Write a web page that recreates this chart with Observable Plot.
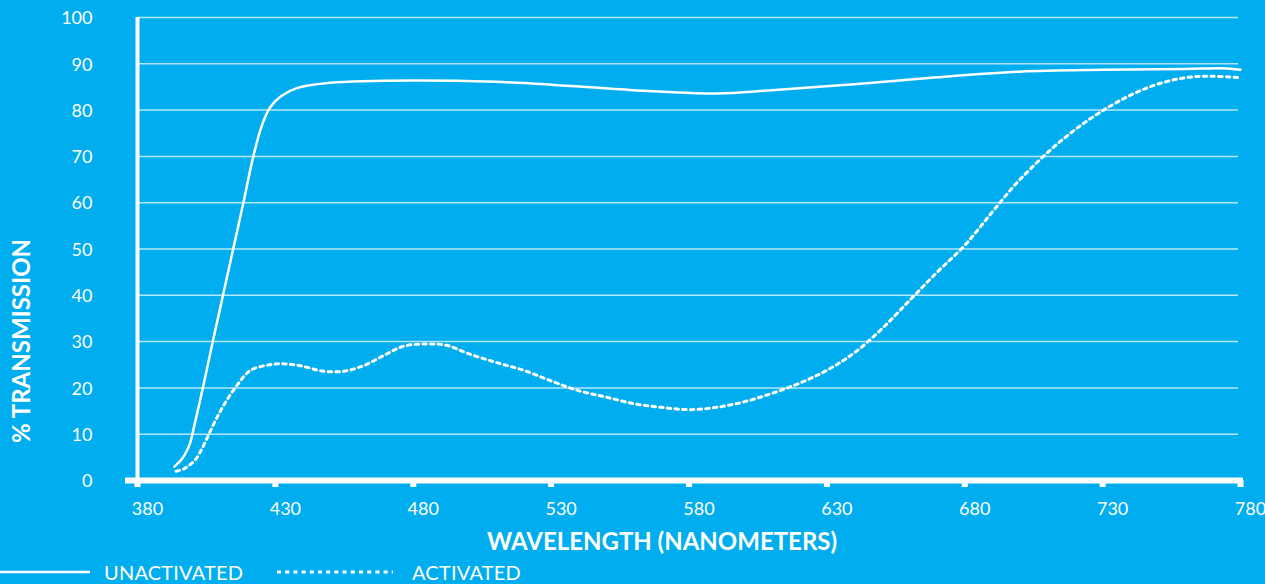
<!DOCTYPE html>
<html>
<head>
<meta charset="utf-8">
<script src="https://cdn.jsdelivr.net/npm/d3@7"></script>
<script src="https://cdn.jsdelivr.net/npm/@observablehq/plot@0.6"></script>
<style>
  html, body { margin: 0; padding: 0; background: #00AEEF; overflow: hidden; }
  #chart { width: 1265px; height: 584px; position: relative; font-family: Lato, "Open Sans", sans-serif; color: #fff; }
  #legend { position: relative; height: 24px; margin-top: 4px; }
  #legend .item { position: absolute; top: 0; height: 24px; display: flex; align-items: center; }
  #legend span { font-size: 20px; line-height: 22px; letter-spacing: 0.2px; }
</style>
</head>
<body>
<div id="chart"></div>
<script>
const unactWavelength = [393.4, 396.3, 398.2, 399.3, 400.1, 403.7, 407.3, 411, 414.7, 418.4, 422, 425, 428, 432, 438, 450, 480, 510, 530, 560, 590, 610, 640, 670, 700, 730, 760, 775, 780];
const unactTransmission = [3, 4.8, 6.8, 8.5, 10.5, 20, 30, 40, 50, 60, 70, 76.5, 80.5, 83, 84.8, 85.9, 86.4, 86.1, 85.5, 84.3, 83.6, 84.3, 85.6, 87.1, 88.3, 88.7, 88.9, 89, 88.7];

const actWavelength = [394, 396.8, 399.2, 401, 402.6, 404, 406.2, 408.9, 411.6, 416, 421, 428, 433, 439, 447.5, 454.8, 462, 469.3, 476.5, 485, 492, 500, 510, 520, 530, 540, 550, 560, 570, 580, 590, 600, 610, 620, 630, 640, 650, 660, 670, 680, 690, 700, 716, 732, 747, 760, 770, 780];
const actTransmission = [2, 2.5, 3.5, 4.5, 6, 7.6, 10.4, 13.7, 16.6, 20.5, 23.8, 25, 25.2, 24.8, 23.6, 23.6, 24.8, 27, 29, 29.5, 29.2, 27.4, 25.5, 23.8, 21.5, 19.4, 18, 16.6, 15.8, 15.3, 15.8, 17, 18.8, 21, 23.8, 27.6, 32.8, 38.9, 45, 50.8, 58, 65, 73.9, 80.6, 85, 87, 87.3, 87];

const xTicks = [380, 430, 480, 530, 580, 630, 680, 730, 780];
const yTicks = [0, 10, 20, 30, 40, 50, 60, 70, 80, 90, 100];
const gridValues = [10, 20, 30, 40, 50, 60, 70, 80, 90, 100];
const seriesNames = ["UNACTIVATED", "ACTIVATED"];
const xLabel = "WAVELENGTH (NANOMETERS)";
const yLabel = "% TRANSMISSION";

const unact = unactWavelength.map((w, i) => ({w, t: unactTransmission[i]}));
const act = actWavelength.map((w, i) => ({w, t: actTransmission[i]}));

const font = "Lato, 'Open Sans', sans-serif";
const plot = Plot.plot({
  width: 1265,
  height: 556,
  marginLeft: 137,
  marginRight: 25,
  marginTop: 17,
  marginBottom: 76,
  style: {background: "transparent", color: "#fff", fontFamily: font, fontSize: "18px"},
  x: {domain: [380, 780]},
  y: {domain: [0, 100]},
  marks: [
    Plot.gridY(gridValues, {stroke: "#fff", strokeOpacity: 0.7, strokeWidth: 1.5, insetRight: 2}),
    Plot.line(unact, {x: "w", y: "t", stroke: "#fff", strokeWidth: 2.5, curve: "catmull-rom"}),
    Plot.line(act, {x: "w", y: "t", stroke: "#fff", strokeWidth: 3, strokeDasharray: "3.5,4.2", curve: "catmull-rom"}),
    Plot.ruleX([380], {stroke: "#fff", strokeWidth: 4}),
    Plot.ruleY([0], {stroke: "#fff", strokeWidth: 6, insetLeft: -12, insetRight: -3}),
    Plot.axisX(xTicks, {tickSize: 7, strokeWidth: 6, stroke: "#fff", strokeOpacity: 1, text: null, label: null}),
    Plot.axisX(xTicks, {tickSize: 0, tickPadding: 20, dx: 10, dy: 2, fill: "#fff", fontSize: 18, label: null}),
    Plot.axisY(yTicks, {tickSize: 0, tickPadding: 45, dy: 1, fill: "#fff", fontSize: 18, label: null}),
    Plot.text([xLabel], {text: d => d, frameAnchor: "bottom", lineAnchor: "middle", dx: -27, dy: 62, fill: "#fff", fontSize: 24, fontWeight: "bold"}),
    Plot.text([yLabel], {text: d => d, frameAnchor: "left", textAnchor: "middle", lineAnchor: "middle", dx: -115, dy: 92, rotate: -90, fill: "#fff", fontSize: 24, fontWeight: "bold"})
  ]
});
const chart = document.getElementById("chart");
chart.appendChild(plot);

const legend = document.createElement("div");
legend.id = "legend";
legend.innerHTML = `
  <div class="item" style="left:0">
    <svg width="90" height="6"><line x1="0" y1="3" x2="90" y2="3" stroke="#fff" stroke-width="2.5"/></svg>
    <span style="margin-left:14px">${seriesNames[0]}</span>
  </div>
  <div class="item" style="left:277px">
    <svg width="116" height="6"><line x1="0" y1="3" x2="116" y2="3" stroke="#fff" stroke-width="3" stroke-dasharray="4,4.2"/></svg>
    <span style="margin-left:19px">${seriesNames[1]}</span>
  </div>`;
chart.appendChild(legend);
</script>
</body>
</html>
